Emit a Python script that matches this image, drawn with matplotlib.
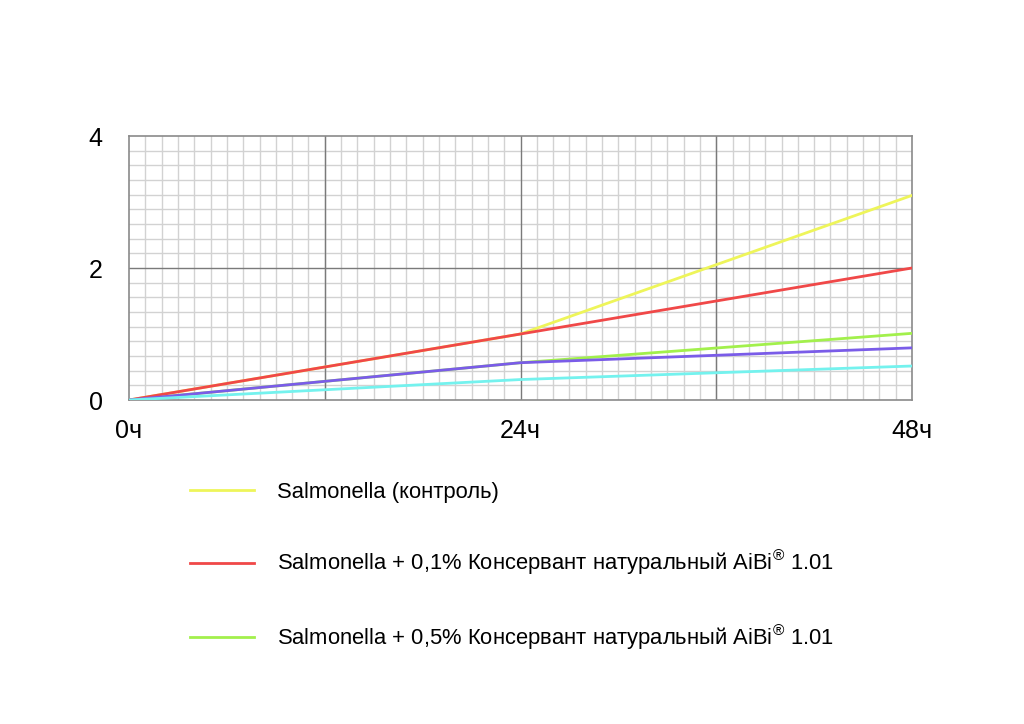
import matplotlib
matplotlib.use("Agg")
import matplotlib.pyplot as plt
from matplotlib.ticker import MultipleLocator

plt.rcParams['font.family'] = ['Liberation Sans', 'DejaVu Sans']
plt.rcParams['mathtext.fontset'] = 'custom'
plt.rcParams['mathtext.rm'] = 'Liberation Sans'
plt.rcParams['mathtext.it'] = 'Liberation Sans'
plt.rcParams['mathtext.bf'] = 'Liberation Sans'

hours = [0, 24, 48]
tick_labels = ["0ч", "24ч", "48ч"]
y_ticks = [0, 2, 4]

control = [0, 1.0, 3.1]
p01 = [0, 1.0, 2.0]
p05 = [0, 0.565, 1.01]
purple = [0, 0.565, 0.79]
cyan = [0, 0.31, 0.515]

labels = ["Salmonella (контроль)",
          "Salmonella + 0,1% Консервант натуральный AiBi$^{\\mathrm{®}}$ 1.01",
          "Salmonella + 0,5% Консервант натуральный AiBi$^{\\mathrm{®}}$ 1.01"]

fig = plt.figure(figsize=(10.24, 7.24), dpi=100)
ax = fig.add_axes([129/1024, 1-400/724, (912-129)/1024, (400-136)/724])

lw = 2.0
l1, = ax.plot(hours, control, color='#eef55a', lw=lw, zorder=3)
l2, = ax.plot(hours, p01, color='#f04848', lw=lw, zorder=4)
l3, = ax.plot(hours, p05, color='#a2f04c', lw=lw, zorder=3)
ax.plot(hours, purple, color='#7a5ce8', lw=lw, zorder=4)
ax.plot(hours, cyan, color='#74f2ee', lw=lw, zorder=4)

ax.set_xlim(0, 48)
ax.set_ylim(0, 4)
ax.xaxis.set_minor_locator(MultipleLocator(1))
ax.yaxis.set_minor_locator(MultipleLocator(2/9))
ax.set_xticks(hours)
ax.set_xticklabels(tick_labels)
ax.set_yticks(y_ticks)

# major gridlines
for x in [12, 24, 36]:
    ax.axvline(x, color='#7a7a7a', lw=1.0, zorder=2)
ax.axhline(2, color='#7a7a7a', lw=1.0, zorder=2)
ax.grid(which='minor', color='#d2d2d2', lw=1.0, zorder=1)
ax.set_axisbelow(True)

for s in ax.spines.values():
    s.set_color('#8a8a8a')
    s.set_linewidth(1.2)

ax.tick_params(which='both', length=0)
ax.tick_params(axis='x', pad=14, labelsize=18)
ax.tick_params(axis='y', pad=19, labelsize=18)

leg = fig.legend([l1, l2, l3], labels, loc='upper left',
                 bbox_to_anchor=(190/1024, 1-482/724), frameon=False,
                 fontsize=15.8, handlelength=2.93, handletextpad=1.05,
                 labelspacing=2.05, borderpad=0, borderaxespad=0)

fig.savefig("out.png", dpi=100, facecolor='white')
